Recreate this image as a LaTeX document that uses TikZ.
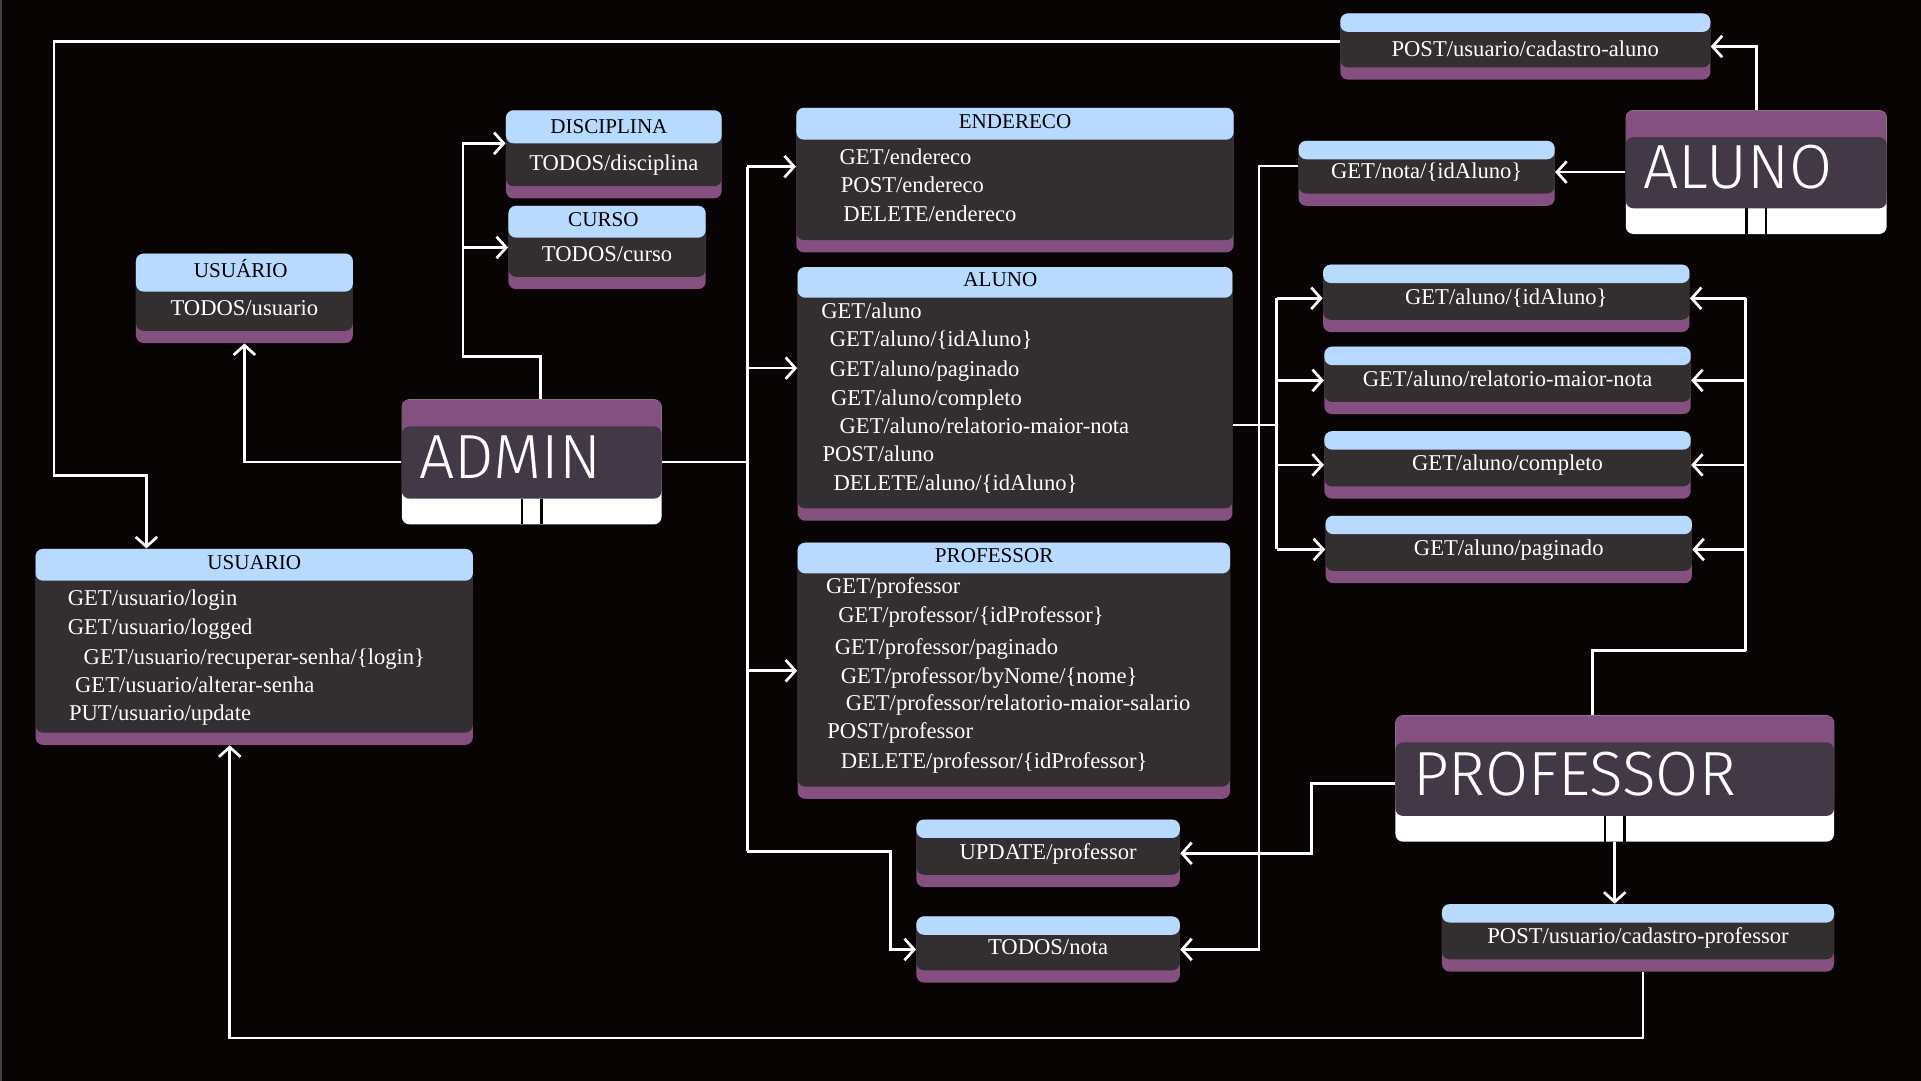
\documentclass[tikz,border=0pt]{standalone}
\usepackage{fontspec}
\setmainfont{Liberation Serif}
\newfontfamily\titlefont{Fira Sans Light}
\usetikzlibrary{arrows.meta,calc,fit}

\definecolor{bg}{RGB}{8,4,4}
\definecolor{head}{RGB}{184,218,255}
\definecolor{body}{RGB}{51,46,47}
\definecolor{purp}{RGB}{132,80,128}
\definecolor{ent}{RGB}{67,56,69}

% endpoint box: name, x1, y1, x2, y2, header height
\newcommand\epbox[6]{%
  \fill[purp,rounded corners=3.5pt] (#2,#3) rectangle (#4,#5);
  \fill[body,rounded corners=3.5pt] (#2,#3) rectangle (#4,#5-10);
  \fill[head,rounded corners=3.5pt] (#2,#3) rectangle (#4,#3+#6);
  \path (#2,#3) coordinate (#1 nw) (#4,#5) coordinate (#1 se);
  \node[fit=(#1 nw)(#1 se),inner sep=0pt] (#1) {};
}
% entity box: name, x1, y1, x2, y2, title
\newcommand\entbox[6]{%
  \fill[white,rounded corners=3.5pt] (#2,#3) rectangle (#4,#5);
  \fill[purp,rounded corners=3.5pt] (#2,#3) rectangle (#4,#5-30);
  \fill[ent,rounded corners=3.5pt] (#2,#3+22) rectangle (#4,#5-21);
  \draw[bg,line width=1.1pt] ({(#2+#4)/2-8},#5-21) -- ({(#2+#4)/2-8},#5)
                             ({(#2+#4)/2+8},#5-21) -- ({(#2+#4)/2+8},#5);
  \path (#2,#3) coordinate (#1 nw) (#4,#5) coordinate (#1 se);
  \node[fit=(#1 nw)(#1 se),inner sep=0pt] (#1) {};
  \node[ttl] (#1-t) at (#2+14,{(#3+#5)/2-4}) {#6};
}

\begin{document}
\begin{tikzpicture}
  [x=0.02cm,y=-0.02cm,
     wire/.style={draw=white,
                  line width=1.25pt},
     arr/.style={wire,
                  -{Straight Barb[length=4.5pt,width=10pt]}},
     txt/.style={text=white,
                  inner sep=0pt,
                  text height=1.5ex,
                  text depth=.25ex,
                  font=\fontsize{10.5}{12}\selectfont},
     row/.style={txt,
                  anchor=west,
                  yshift=-0.04cm},
     hd/.style={txt,
                  text=black,
                  font=\fontsize{9.8}{11}\selectfont},
     ttl/.style={text=white,
                  inner sep=0pt,
                  anchor=west,
                  font=\titlefont\fontsize{29}{30}\selectfont}
  ]
    \useasboundingbox (0,0) rectangle (1568,882);
    \fill[bg] (0,0) rectangle (1568,882);
    \fill[black!75!white] (0,0) rectangle (1.5,882);

    \epbox{cadAluno}{1094}{11}{1396}{65}{15}
    \epbox{getNota}{1060}{115}{1269}{168}{15}
    \epbox{disc}{413}{90}{589}{162}{27}
    \epbox{curso}{415}{168}{576}{236}{26}
    \epbox{usuT}{111}{207}{288}{280}{31}
    \epbox{end}{650}{88}{1007}{206}{26}
    \epbox{alunoT}{651}{218}{1006}{425}{25}
    \epbox{profT}{651}{443}{1004}{652}{25}
    \epbox{usuario}{29}{448}{386}{608}{26}
    \epbox{gA1}{1080}{216}{1379}{271}{15}
    \epbox{gA2}{1081}{283}{1380}{338}{15}
    \epbox{gA3}{1081}{352}{1380}{407}{15}
    \epbox{gA4}{1082}{421}{1381}{476}{15}
    \epbox{update}{748}{669}{963}{724}{15}
    \epbox{nota}{748}{748}{963}{802}{15}
    \epbox{cadProf}{1177}{738}{1497}{793}{15}

    \entbox{admin}{328}{326}{540}{428}{ADMIN}
    \entbox{aluno}{1327}{90}{1540}{191}{ALUNO}
    \entbox{prof}{1139}{584}{1497}{687}{PROFESSOR}

    % headers
    \foreach \n/\dx/\h/\t in {disc/-4/14.5/DISCIPLINA, curso/-3/12/CURSO, usuT/-3/14.5/USUÁRIO,
        end/0/12/ENDERECO, alunoT/-12/11.5/ALUNO, profT/-16/11.5/PROFESSOR, usuario/0/12/USUARIO}{
        \node[hd] (\n-h) at ($(\n.north)+(\dx,\h)$) {\t};
    }
    % one line boxes
    \foreach \n/\t in {disc/{TODOS/disciplina}, curso/{TODOS/curso}, usuT/{TODOS/usuario}}{
        \node[txt] (\n-t) at ($(\n.south)+(0,-28)$) {\t};
    }
    \foreach \n/\dy/\t in {cadAluno/-24/{POST/usuario/cadastro-aluno}, getNota/-28/{GET/nota/\{idAluno\}},
        gA1/-28/{GET/aluno/\{idAluno\}}, gA2/-28/{GET/aluno/relatorio-maior-nota},
        gA3/-28/{GET/aluno/completo}, gA4/-28/{GET/aluno/paginado}, update/-28/{UPDATE/professor},
        nota/-28/{TODOS/nota}, cadProf/-28/{POST/usuario/cadastro-professor}}{
        \node[txt] (\n-t) at ($(\n.south)+(0,\dy)$) {\t};
    }
    % table lines
    \foreach \x/\y/\t [count=\i] in {685/127/{GET/endereco}, 686/150/{POST/endereco},
        688/174/{DELETE/endereco}}{
        \node[row] (end\i) at (\x,\y) {\t};
    }
    \foreach \x/\y/\t [count=\i] in {670/253/{GET/aluno}, 677/276/{GET/aluno/\{idAluno\}},
        677/300/{GET/aluno/paginado}, 678/324/{GET/aluno/completo},
        685/347/{GET/aluno/relatorio-maior-nota}, 671/370/{POST/aluno},
        680/393/{DELETE/aluno/\{idAluno\}}}{
        \node[row] (al\i) at (\x,\y) {\t};
    }
    \foreach \x/\y/\t [count=\i] in {674/477/{GET/professor}, 684/501/{GET/professor/\{idProfessor\}},
        681/527/{GET/professor/paginado}, 686/551/{GET/professor/byNome/\{nome\}},
        690/573/{GET/professor/relatorio-maior-salario}, 675/596/{POST/professor},
        686/620/{DELETE/professor/\{idProfessor\}}}{
        \node[row] (pr\i) at (\x,\y) {\t};
    }
    \foreach \x/\y/\t [count=\i] in {55/487/{GET/usuario/login}, 55/511/{GET/usuario/logged},
        68/535/{GET/usuario/recuperar-senha/\{login\}}, 61/558/{GET/usuario/alterar-senha},
        56/581/{PUT/usuario/update}}{
        \node[row] (us\i) at (\x,\y) {\t};
    }

    % admin
    \coordinate (admUp) at (378,291);
    \coordinate (busA) at (610,136);
    \coordinate (busB) at (610,695);
    \draw[arr] (admin.west) -| (usuT.south);
    \draw[arr] ($(admin.north)+(7,0)$) |- (admUp) |- ($(disc.west)+(0,-9)$);
    \draw[arr] (curso.west -| admUp) -- (curso.west);
    \draw[wire] (admin.east) -- (admin.east -| busA);
    \draw[wire] (busA) -- (busB);
    \draw[arr] (busA) -- (busA -| end.west);
    \draw[arr] ($(alunoT.west)+(-41,-21)$) -- ($(alunoT.west)+(0,-21)$);
    \draw[arr] (busA |- profT.west) -- (profT.west);
    \draw[arr] (busB) -| ($(nota.west)+(-21,0)$) -- (nota.west);

    % aluno
    \coordinate (busC) at (1042,347);
    \draw[wire] (alunoT.east |- busC) -- (busC);
    \draw[wire] (busC |- gA1.west) -- (busC |- gA4.west);
    \foreach \g in {gA1,gA2,gA3,gA4}
        \draw[arr] (busC |- \g.west) -- (\g.west);
    \draw[arr] (aluno.north) |- (cadAluno.east);
    \draw[arr] (aluno.west) -- (aluno.west -| getNota.east);
    \draw[arr] ($(getNota.west)+(0,-6)$) -- ++(-32,0) |- (nota.east);
    \draw[arr] ($(cadAluno.west)+(0,-4)$) -| (44,388) -| ($(usuario.north)+(-88,0)$);

    % professor
    \coordinate (busD) at (1425,531);
    \draw[wire] ($(prof.north)+(-18,0)$) |- (busD);
    \draw[wire] (busD) -- (busD |- gA1.east);
    \foreach \g in {gA1,gA2,gA3,gA4}
        \draw[arr] (busD |- \g.east) -- (\g.east);
    \draw[arr] ($(prof.west)+(0,4)$) -- ++(-68,0) |- (update.east);
    \draw[arr] (prof.south) -- (prof.south |- cadProf.north);
    \draw[arr] ($(cadProf.south)+(4,0)$) -- ++(0,54) -| ($(usuario.south)+(-20,0)$);

\end{tikzpicture}
\end{document}
